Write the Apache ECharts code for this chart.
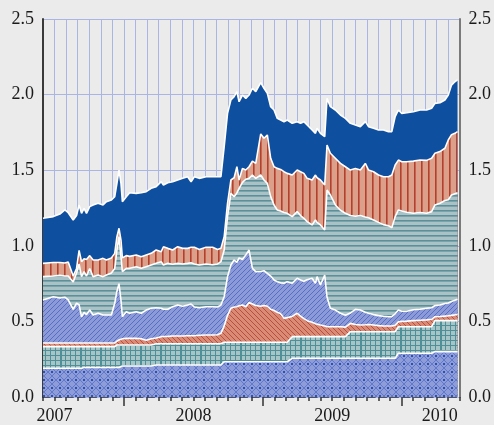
<!DOCTYPE html>
<html><head><meta charset="utf-8">
<script src="https://cdn.jsdelivr.net/npm/echarts@6/dist/echarts.min.js"></script>
<style>html,body{margin:0;padding:0;background:#ebebeb}#c{width:494px;height:425px}</style>
</head><body><div id="c"></div>
<script>
// x: months since 1 Jan 2007 (fractional)
const months = [
5.0, 5.89, 6.46, 6.89, 7.18, 7.61, 7.90, 8.12, 8.33, 8.55,
8.76, 9.04, 9.33, 9.76, 10.19, 10.48, 10.91, 11.20, 11.39, 11.57,
11.74, 11.86, 12.20, 12.49, 13.06, 13.49, 13.92, 14.35, 14.78, 15.22,
15.41, 15.78, 16.21, 16.64, 17.07, 17.50, 17.80, 18.08, 18.51, 19.09,
19.66, 20.09, 20.38, 20.66, 20.95, 21.24, 21.52, 21.76, 21.95, 22.24,
22.53, 22.81, 23.10, 23.39, 23.82, 24.10, 24.39, 24.68, 24.97, 25.25,
25.54, 25.83, 26.11, 26.54, 26.97, 27.26, 27.55, 27.83, 28.26, 28.55,
28.69, 28.98, 29.35, 29.55, 29.84, 30.27, 30.71, 31.14, 31.57, 32.00,
32.43, 32.86, 33.14, 33.57, 34.00, 34.43, 34.86, 35.15, 35.44, 35.72,
36.01, 36.44, 37.01, 37.59, 38.16, 38.59, 38.88, 39.31, 39.74, 40.03,
40.31, 40.60, 40.83];

const yearLabels = ['2007', '2008', '2009', '2010'];
const yearLabelAt = [6, 18, 30, 39.3];
const yearStarts = [12, 24, 36];

// cumulative levels (top of each band), bottom band = level1
const level1 = [
0.19,0.19,0.19,0.19,0.19,0.19,0.19,0.19,0.19,0.195,
0.195,0.195,0.195,0.195,0.195,0.195,0.195,0.195,0.195,0.195,
0.205,0.205,0.205,0.205,0.205,0.205,0.205,0.205,0.212,0.212,
0.212,0.212,0.212,0.212,0.212,0.212,0.212,0.212,0.212,0.212,
0.212,0.212,0.212,0.233,0.233,0.233,0.233,0.233,0.233,0.233,
0.233,0.233,0.233,0.233,0.233,0.233,0.233,0.233,0.233,0.233,
0.233,0.233,0.233,0.256,0.256,0.256,0.256,0.256,0.256,0.256,
0.256,0.256,0.256,0.256,0.256,0.256,0.256,0.256,0.256,0.256,
0.256,0.256,0.256,0.256,0.256,0.256,0.256,0.256,0.256,0.289,
0.289,0.289,0.289,0.289,0.289,0.289,0.30,0.30,0.30,0.30,
0.30,0.30,0.30];
const level2 = [
0.333,0.333,0.333,0.333,0.333,0.333,0.333,0.333,0.333,0.333,
0.333,0.333,0.333,0.333,0.333,0.333,0.333,0.333,0.344,0.344,
0.344,0.344,0.344,0.344,0.344,0.344,0.344,0.344,0.352,0.352,
0.352,0.352,0.352,0.352,0.352,0.352,0.352,0.352,0.352,0.352,
0.352,0.352,0.352,0.362,0.362,0.362,0.362,0.362,0.362,0.362,
0.362,0.362,0.362,0.362,0.362,0.362,0.362,0.362,0.362,0.362,
0.362,0.362,0.362,0.399,0.399,0.399,0.399,0.399,0.399,0.399,
0.399,0.399,0.399,0.399,0.399,0.399,0.399,0.399,0.432,0.432,
0.432,0.432,0.432,0.432,0.432,0.432,0.432,0.432,0.432,0.465,
0.465,0.465,0.465,0.465,0.465,0.465,0.505,0.505,0.505,0.505,
0.505,0.505,0.505];
const level3 = [
0.357,0.357,0.357,0.357,0.357,0.357,0.357,0.357,0.357,0.357,
0.357,0.357,0.357,0.357,0.357,0.357,0.357,0.357,0.37,0.377,
0.38,0.385,0.388,0.388,0.388,0.385,0.375,0.385,0.39,0.399,
0.40,0.401,0.403,0.403,0.403,0.405,0.405,0.405,0.408,0.41,
0.41,0.412,0.421,0.47,0.54,0.587,0.595,0.597,0.603,0.608,
0.597,0.625,0.615,0.605,0.60,0.605,0.60,0.58,0.572,0.56,
0.55,0.52,0.525,0.533,0.554,0.535,0.518,0.505,0.495,0.485,
0.48,0.476,0.47,0.465,0.465,0.465,0.465,0.462,0.487,0.48,
0.476,0.478,0.48,0.476,0.472,0.47,0.47,0.47,0.475,0.498,
0.50,0.502,0.505,0.508,0.51,0.514,0.531,0.532,0.535,0.537,
0.54,0.543,0.547];
const level4 = [
0.642,0.663,0.655,0.66,0.642,0.58,0.62,0.61,0.53,0.56,
0.545,0.575,0.542,0.554,0.542,0.542,0.542,0.62,0.70,0.75,
0.64,0.531,0.564,0.554,0.564,0.554,0.575,0.587,0.59,0.587,
0.58,0.58,0.597,0.608,0.60,0.608,0.615,0.595,0.59,0.597,
0.597,0.595,0.608,0.663,0.796,0.873,0.906,0.89,0.92,0.91,
0.94,0.972,0.851,0.829,0.83,0.835,0.818,0.80,0.774,0.763,
0.755,0.752,0.763,0.752,0.785,0.774,0.765,0.775,0.785,0.752,
0.796,0.741,0.807,0.66,0.587,0.575,0.554,0.54,0.555,0.58,
0.575,0.56,0.554,0.545,0.538,0.534,0.531,0.531,0.55,0.575,
0.567,0.567,0.577,0.58,0.587,0.59,0.605,0.608,0.618,0.622,
0.632,0.64,0.646];
const level5 = [
0.796,0.80,0.805,0.80,0.80,0.76,0.82,0.88,0.796,0.83,
0.80,0.85,0.796,0.807,0.796,0.807,0.82,0.85,0.972,1.06,
0.928,0.83,0.851,0.851,0.862,0.851,0.862,0.873,0.884,0.895,
0.873,0.884,0.878,0.884,0.88,0.884,0.888,0.88,0.873,0.88,
0.875,0.88,0.895,0.972,1.193,1.347,1.325,1.35,1.38,1.42,
1.44,1.446,1.468,1.446,1.468,1.435,1.413,1.325,1.27,1.237,
1.23,1.22,1.215,1.193,1.226,1.20,1.182,1.16,1.138,1.171,
1.155,1.138,1.105,1.369,1.336,1.27,1.235,1.215,1.20,1.195,
1.20,1.19,1.185,1.171,1.155,1.14,1.133,1.12,1.193,1.237,
1.23,1.222,1.215,1.22,1.215,1.226,1.27,1.281,1.30,1.305,
1.336,1.345,1.351];
const level6 = [
0.884,0.89,0.89,0.886,0.893,0.80,0.85,0.97,0.895,0.915,
0.91,0.935,0.906,0.906,0.917,0.906,0.92,0.95,1.06,1.116,
1.038,0.92,0.935,0.93,0.939,0.928,0.939,0.95,0.972,0.961,
0.994,0.983,0.972,0.994,0.983,0.983,0.99,0.99,0.975,0.99,
0.99,0.975,0.983,1.06,1.281,1.435,1.45,1.523,1.435,1.512,
1.501,1.523,1.56,1.545,1.74,1.711,1.733,1.579,1.523,1.512,
1.505,1.49,1.479,1.468,1.501,1.49,1.479,1.446,1.435,1.468,
1.45,1.435,1.402,1.667,1.612,1.579,1.545,1.523,1.501,1.512,
1.501,1.545,1.501,1.49,1.468,1.457,1.457,1.468,1.534,1.567,
1.556,1.556,1.56,1.567,1.565,1.579,1.612,1.623,1.645,1.70,
1.735,1.744,1.755];
const level7 = [
1.182,1.193,1.21,1.237,1.219,1.17,1.20,1.27,1.215,1.248,
1.215,1.259,1.27,1.281,1.27,1.292,1.303,1.325,1.413,1.501,
1.413,1.292,1.325,1.351,1.347,1.351,1.358,1.38,1.391,1.424,
1.402,1.417,1.424,1.435,1.446,1.457,1.424,1.457,1.446,1.457,
1.457,1.457,1.457,1.655,1.876,1.964,1.986,2.019,1.953,1.997,
1.975,1.997,2.042,2.019,2.079,2.042,2.009,1.92,1.898,1.843,
1.832,1.821,1.832,1.81,1.821,1.81,1.821,1.799,1.766,1.744,
1.777,1.744,1.722,1.975,1.92,1.898,1.865,1.843,1.81,1.799,
1.788,1.821,1.788,1.777,1.766,1.766,1.755,1.755,1.854,1.898,
1.876,1.88,1.887,1.898,1.898,1.909,1.942,1.946,1.964,1.997,
2.063,2.085,2.097];

function pattern(w, h, bg, draw) {
  const c = document.createElement('canvas');
  c.width = w; c.height = h;
  const ctx = c.getContext('2d');
  ctx.fillStyle = bg; ctx.fillRect(0, 0, w, h);
  draw(ctx);
  return { image: c, repeat: 'repeat' };
}
function diag(ctx, s, dir, color, lw) {
  ctx.strokeStyle = color; ctx.lineWidth = lw;
  ctx.beginPath();
  for (let k = -1; k <= 1; k++) {
    if (dir > 0) { ctx.moveTo(k * s, s); ctx.lineTo(k * s + s, 0); }
    else { ctx.moveTo(k * s, 0); ctx.lineTo(k * s + s, s); }
  }
  ctx.stroke();
}
const fills = [
  // band 1: cross-hatch with dots
  pattern(8, 8, '#8e9cda', ctx => {
    ctx.strokeStyle = '#6278c8'; ctx.lineWidth = 1;
    ctx.beginPath();
    ctx.moveTo(-4, 8); ctx.lineTo(4, 0); ctx.moveTo(4, 8); ctx.lineTo(12, 0);
    ctx.moveTo(-4, 0); ctx.lineTo(4, 8); ctx.moveTo(4, 0); ctx.lineTo(12, 8);
    ctx.stroke();
    ctx.fillStyle = '#2a50b2'; ctx.fillRect(3, 3, 2, 2);
  }),
  // band 2: teal grid
  pattern(20, 5, '#a7c4c7', ctx => {
    ctx.fillStyle = '#4f8f97';
    ctx.fillRect(0, 0, 20, 1);
    ctx.fillRect(0, 0, 2, 5);
    ctx.fillRect(5, 0, 1, 5); ctx.fillRect(10, 0, 1, 5); ctx.fillRect(15, 0, 1, 5);
  }),
  // band 3: salmon back-diagonal
  pattern(5, 5, '#d98b76', ctx => diag(ctx, 5, -1, '#b5473a', 0.9)),
  // band 4: blue diagonal
  pattern(5, 5, '#8c9bd8', ctx => diag(ctx, 5, 1, '#5069c4', 0.9)),
  // band 5: horizontal teal lines
  pattern(4, 5, '#aac2c6', ctx => { ctx.fillStyle = '#5b8f99'; ctx.fillRect(0, 0, 4, 1.6); }),
  // band 6: vertical salmon lines
  pattern(7, 4, '#dc9f89', ctx => { ctx.fillStyle = '#b3402c'; ctx.fillRect(1, 0, 1.6, 4); }),
  // band 7: solid dark blue
  '#0f4f9f'
];
const levels = [level1, level2, level3, level4, level5, level6, level7];

const series = [];
for (let i = levels.length - 1; i >= 0; i--) {
  series.push({
    type: 'line',
    xAxisIndex: 0, yAxisIndex: 0,
    data: months.map((m, j) => [m, levels[i][j]]),
    showSymbol: false,
    symbol: 'none',
    silent: true,
    lineStyle: { color: '#ffffff', width: 1.6 },
    areaStyle: { color: fills[i], opacity: 1 },
    animation: false
  });
}

const labelFont = { fontFamily: 'Liberation Serif', fontSize: 18, color: '#1a1a1a' };
const chart = echarts.init(document.getElementById('c'), null, { renderer: 'canvas' });
chart.setOption({
  backgroundColor: '#ebebeb',
  animation: false,
  grid: { left: 43, right: 33, top: 19, bottom: 28, containLabel: false },
  xAxis: [{
    type: 'value', min: 5, max: 41, interval: 1,
    axisLine: { show: true, onZero: false, lineStyle: { color: '#333', width: 1.5, type: [7, 4.61] } },
    axisTick: { show: true, length: 4, lineStyle: { color: '#333', width: 1.5 } },
    splitLine: { show: true, lineStyle: { color: '#abb5e3', width: 1 } },
    axisLabel: Object.assign({
      margin: 10,
      customValues: yearLabelAt,
      formatter: v => {
        for (let k = 0; k < yearLabelAt.length; k++) {
          if (Math.abs(v - yearLabelAt[k]) < 0.35) return yearLabels[k];
        }
        return '';
      }
    }, labelFont)
  }, {
    type: 'value', min: 5, max: 41, position: 'bottom',
    axisLine: { show: false },
    axisTick: { show: true, length: 9, customValues: yearStarts, lineStyle: { color: '#333', width: 1.5 } },
    axisLabel: { show: false },
    splitLine: { show: false }
  }],
  yAxis: [{
    type: 'value', min: 0, max: 2.5, interval: 0.5, position: 'left',
    axisLine: { show: true, onZero: false, lineStyle: { color: '#3a3a3a', width: 2 } },
    axisTick: { show: false },
    splitLine: { show: true, lineStyle: { color: '#abb5e3', width: 1 } },
    axisLabel: Object.assign({ margin: 9, formatter: v => v.toFixed(1) }, labelFont)
  }, {
    type: 'value', min: 0, max: 2.5, interval: 0.5, position: 'right',
    axisLine: { show: true, onZero: false, lineStyle: { color: '#7a7a7a', width: 2 } },
    axisTick: { show: false },
    splitLine: { show: false },
    axisLabel: Object.assign({ margin: 9, formatter: v => v.toFixed(1) }, labelFont)
  }],
  series: series
});
</script>
</body></html>
